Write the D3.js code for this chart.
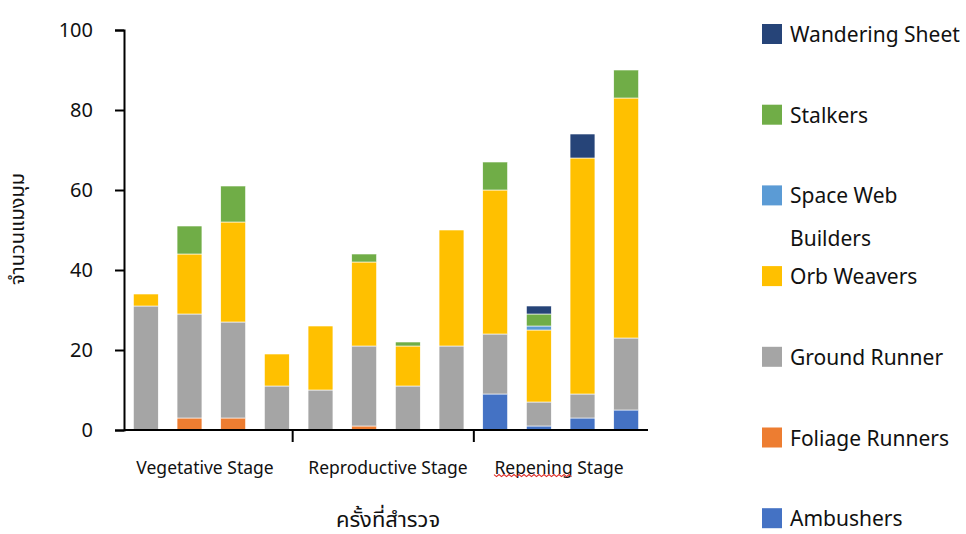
<!DOCTYPE html>
<html>
<head>
<meta charset="utf-8">
<script src="https://cdn.jsdelivr.net/npm/d3@7"></script>
<style>
  body { margin: 0; background: #fff; }
  text { font-family: "Noto Sans", "Noto Sans Thai", sans-serif; fill: #111; }
</style>
</head>
<body>
<div id="chart"></div>
<script>
// data
const bars = d3.range(12);
const stages = ["Vegetative Stage", "Reproductive Stage", "Repening Stage"];
const yTicks = [0, 20, 40, 60, 80, 100];
const series = ["Ambushers", "Foliage Runners", "Ground Runner", "Orb Weavers", "Space Web Builders", "Stalkers", "Wandering Sheet"];
const ambushers      = [0, 0, 0, 0, 0, 0, 0, 0, 9, 1, 3, 5];
const foliageRunners = [0, 3, 3, 0, 0, 1, 0, 0, 0, 0, 0, 0];
const groundRunner   = [31, 26, 24, 11, 10, 20, 11, 21, 15, 6, 6, 18];
const orbWeavers     = [3, 15, 25, 8, 16, 21, 10, 29, 36, 18, 59, 60];
const spaceWeb       = [0, 0, 0, 0, 0, 0, 0, 0, 0, 1, 0, 0];
const stalkers       = [0, 7, 9, 0, 0, 2, 1, 0, 7, 3, 0, 7];
const wanderingSheet = [0, 0, 0, 0, 0, 0, 0, 0, 0, 2, 6, 0];
const colors = ["#4472C4", "#ED7D31", "#A5A5A5", "#FFC000", "#5B9BD5", "#70AD47", "#264478"];

const W = 966, H = 534;
const margin = {top: 30, right: 318, bottom: 104, left: 124},
    width = W - margin.left - margin.right,
    height = H - margin.top - margin.bottom;

const svg = d3.select("#chart").append("svg")
    .attr("width", W).attr("height", H);
const g = svg.append("g")
    .attr("transform", "translate(" + margin.left + "," + margin.top + ")");

const table = bars.map(i => ({
  "Ambushers": ambushers[i], "Foliage Runners": foliageRunners[i], "Ground Runner": groundRunner[i],
  "Orb Weavers": orbWeavers[i], "Space Web Builders": spaceWeb[i], "Stalkers": stalkers[i],
  "Wandering Sheet": wanderingSheet[i], idx: i
}));
const stacked = d3.stack().keys(series)(table);

const xScale = d3.scaleBand().domain(bars).range([0, width]).paddingInner(0.43).paddingOuter(0.215);
const yScale = d3.scaleLinear().domain([0, 100]).range([height, 0]);
const color = d3.scaleOrdinal().domain(series).range(colors);

// bars
g.append("g").selectAll("g")
  .data(stacked).enter().append("g")
    .attr("fill", d => color(d.key))
  .selectAll("rect")
  .data(d => d.filter(p => p[1] - p[0] > 0)).enter().append("rect")
    .attr("x", d => xScale(d.data.idx))
    .attr("y", d => yScale(d[1]))
    .attr("width", xScale.bandwidth())
    .attr("height", d => yScale(d[0]) - yScale(d[1]))
    .attr("stroke", "#fff").attr("stroke-width", 0.6);

// y axis
const yAxis = g.append("g")
  .call(d3.axisLeft(yScale).tickValues(yTicks).tickSize(9).tickPadding(22));
yAxis.select(".domain").attr("stroke", "#000").attr("stroke-width", 2);
yAxis.selectAll(".tick line").attr("stroke", "#000").attr("stroke-width", 2);
yAxis.selectAll("text").style("font-size", "20px").attr("fill", "#111");

// x axis line with stage ticks
const xAxisG = g.append("g").attr("transform", "translate(0," + height + ")");
xAxisG.append("line").attr("x1", 0).attr("x2", width)
  .attr("stroke", "#000").attr("stroke-width", 2);
const step = xScale.step();
[[4, -6], [8, 0.5]].forEach(([k, off]) => {
  const xx = xScale(k) - step * xScale.paddingInner() / 2 + off;
  xAxisG.append("line").attr("x1", xx).attr("x2", xx).attr("y1", 0).attr("y2", 12)
    .attr("stroke", "#000").attr("stroke-width", 2);
});
const stageCenters = [81, 264, 435];
stages.forEach((s, i) => {
  xAxisG.append("text").attr("x", stageCenters[i]).attr("y", 44)
    .attr("text-anchor", "middle").style("font-size", "17.5px").text(s);
});
// spell-check squiggle under "Repening"
const wave = d3.range(0, 78, 2.5).map((t, i) => [370 + t, 45 + (i % 2 ? 1.6 : -0.4)]);
xAxisG.append("path").attr("d", d3.line()(wave))
  .attr("fill", "none").attr("stroke", "#e0302a").attr("stroke-width", 1.2);

// axis titles
g.append("text").attr("x", 264).attr("y", height + 97)
  .attr("text-anchor", "middle").style("font-size", "22px").text("ครั้งที่สำรวจ");
g.append("text")
  .attr("transform", "translate(" + (-100) + "," + (height / 2 - 1) + ") rotate(-90)")
  .attr("text-anchor", "middle").style("font-size", "20px").text("จำนวนแมงมุม");

// legend
const legendItems = series.slice().reverse();
const legend = svg.append("g").attr("transform", "translate(762,0)");
legendItems.forEach((s, i) => {
  const cy = 34 + i * 80.7;
  legend.append("rect").attr("x", 0).attr("y", cy - 10).attr("width", 20).attr("height", 20)
    .attr("fill", color(s));
  if (s === "Space Web Builders") {
    legend.append("text").attr("x", 28).attr("y", cy + 8).style("font-size", "21px").text("Space Web");
    legend.append("text").attr("x", 28).attr("y", cy + 51).style("font-size", "21px").text("Builders");
  } else {
    legend.append("text").attr("x", 28).attr("y", cy + 8).style("font-size", "21px").text(s);
  }
});
</script>
</body>
</html>
